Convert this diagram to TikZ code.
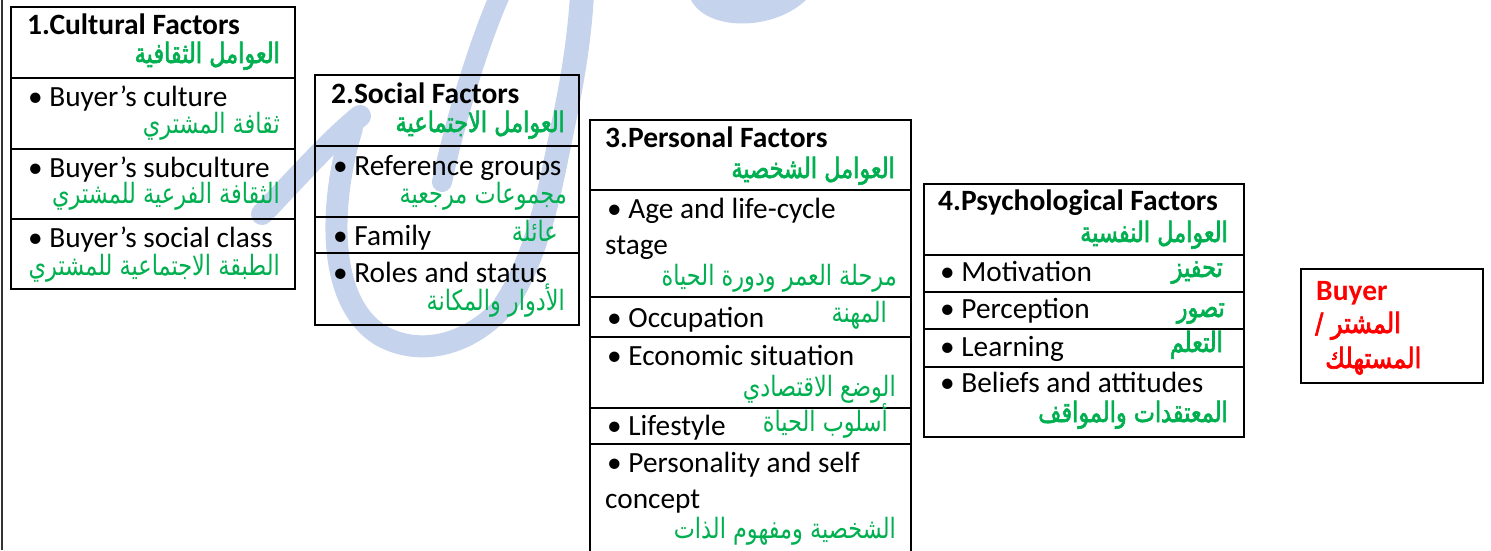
\documentclass[tikz,border=0pt]{standalone}
\usepackage{fontspec}
\setmainfont{Carlito}
\newfontfamily\arabicfont[Script=Arabic,FakeStretch=0.8]{DejaVu Sans}
\newfontfamily\arabicbf[Script=Arabic,FakeBold=2,FakeStretch=0.8]{DejaVu Sans}
\newfontfamily\arabicbfwide[Script=Arabic,FakeBold=2.5,FakeStretch=0.86]{DejaVu Sans}
\TeXXeTstate=1
\definecolor{wordgreen}{RGB}{0,176,80}
\definecolor{wmblue}{RGB}{197,211,236}
\newcommand{\artxt}[1]{{\arabicfont\beginR #1\endR}}
\newcommand{\artxtb}[1]{{\arabicbf\beginR #1\endR}}
\newcommand{\artxtw}[1]{{\arabicbfwide\beginR #1\endR}}
\tikzset{
  cell/.style={draw=black, line width=1.8pt},
  en/.style={anchor=base west, inner sep=0pt, font=\fontsize{29.3}{34}\selectfont},
  enb/.style={anchor=base west, inner sep=0pt, font=\fontsize{29.5}{34}\selectfont\bfseries},
  ar/.style={anchor=base east, inner sep=0pt, text=wordgreen, font=\fontsize{28}{32}\selectfont},
  buy/.style={anchor=base west, inner sep=0pt, text=red, font=\fontsize{28}{32}\selectfont},
  wm/.style={draw=wmblue, line cap=round, line join=round},
}
\begin{document}
\begin{tikzpicture}[x=1pt,y=-1pt]
\useasboundingbox (0,0) rectangle (1491,550);
\clip (0,0) rectangle (1491,550);
\fill[white] (0,0) rectangle (1491,550);
% watermark
\draw[wm, line width=22pt] (262,214) .. controls (295,180) and (330,140) .. (360,116);
\draw[wm, line width=22pt] (352,128) .. controls (330,200) and (325,300) .. (380,335)
   .. controls (420,358) and (470,345) .. (505,305);
\draw[wm, line width=24pt] (505,305) .. controls (535,260) and (548,200) .. (558,150)
   .. controls (566,110) and (578,60) .. (582,-5);
\draw[wm, line width=20pt] (500,-5) .. controls (480,40) and (455,120) .. (442,182);
\fill[wmblue] (690,-2) .. controls (705,32) and (775,32) .. (808,-2) -- cycle;
% left edge line
\draw[black!80, line width=2pt] (1.5,0) -- (1.5,550);
% box 1
\draw[cell] (11,7) rectangle (295,289);
\draw[cell] (11,78) -- (295,78);
\draw[cell] (11,149) -- (295,149);
\draw[cell] (11,219) -- (295,219);
\node[enb] (h1) at (27,34) {1.Cultural Factors};
\node[ar] (h1a) at (280,63) {\artxtb{العوامل الثقافية}};
\node[en] (c1) at (28,106) {•\ Buyer’s culture};
\node[ar] (c1a) at (280,133) {\artxt{ثقافة المشتري}};
\node[en] (c2) at (28,177) {•\ Buyer’s subculture};
\node[ar] (c2a) at (280,203) {\artxt{الثقافة الفرعية للمشتري}};
\node[en] (c3) at (28,247) {•\ Buyer’s social class};
\node[ar] (c3a) at (280,275) {\artxt{الطبقة الاجتماعية للمشتري}};
% box 2
\draw[cell] (315,75) rectangle (579,325);
\draw[cell] (315,146) -- (579,146);
\draw[cell] (315,217) -- (579,217);
\draw[cell] (315,253) -- (579,253);
\node[enb] (h2) at (331,103) {2.Social Factors};
\node[ar] (h2a) at (565,132) {\artxtb{العوامل الاجتماعية}};
\node[en] (s1) at (333,175) {•\ Reference groups};
\node[ar] (s1a) at (567,203) {\artxt{مجموعات مرجعية}};
\node[en] (s2) at (333,245) {•\ Family};
\node[ar] (s2a) at (558,241) {\artxt{عائلة}};
\node[en] (s3) at (333,282) {•\ Roles and status};
\node[ar] (s3a) at (565,310) {\artxt{الأدوار والمكانة}};
% box 3
\draw[cell] (590,120) rectangle (911,560);
\draw[cell] (590,190) -- (911,190);
\draw[cell] (590,297) -- (911,297);
\draw[cell] (590,337) -- (911,337);
\draw[cell] (590,408) -- (911,408);
\draw[cell] (590,444) -- (911,444);
\node[enb] (h3) at (605,147) {3.Personal Factors};
\node[ar] (h3a) at (895,178) {\artxtb{العوامل الشخصية}};
\node[en] (p1) at (607,218) {•\ Age and life-cycle};
\node[en] (p1b) at (605,254) {stage};
\node[ar] (p1a) at (897,285) {\artxt{مرحلة العمر ودورة الحياة}};
\node[en] (p2) at (607,327) {•\ Occupation};
\node[ar] (p2a) at (887,322) {\artxt{المهنة}};
\node[en] (p3) at (607,365) {•\ Economic situation};
\node[ar] (p3a) at (896,396) {\artxt{الوضع الاقتصادي}};
\node[en] (p4) at (607,435) {•\ Lifestyle};
\node[ar] (p4a) at (888,431) {\artxt{أسلوب الحياة}};
\node[en] (p5) at (607,472) {•\ Personality and self};
\node[en] (p5b) at (605,508) {concept};
\node[ar] (p5a) at (896,538) {\artxt{الشخصية ومفهوم الذات}};
% box 4
\draw[cell] (924,184) rectangle (1244,437);
\draw[cell] (924,255) -- (1244,255);
\draw[cell] (924,292) -- (1244,292);
\draw[cell] (924,329) -- (1244,329);
\draw[cell] (924,367) -- (1244,367);
\node[enb] (h4) at (938,210) {4.Psychological Factors};
\node[ar] (h4a) at (1228,242) {\artxtb{العوامل النفسية}};
\node[en] (q1) at (940,281) {•\ Motivation};
\node[ar] (q1a) at (1223,277) {\artxtb{تحفيز}};
\node[en] (q2) at (940,318) {•\ Perception};
\node[ar] (q2a) at (1225,317) {\artxtb{تصور}};
\node[en] (q3) at (940,356) {•\ Learning};
\node[ar] (q3a) at (1223,352) {\artxtb{التعلم}};
\node[en] (q4) at (940,392) {•\ Beliefs and attitudes};
\node[ar] (q4a) at (1228,422) {\artxtb{المعتقدات والمواقف}};
% buyer box
\draw[cell] (1301,269) rectangle (1483,383);
\node[enb, text=red] (b1) at (1316,300) {Buyer};
\node[buy] (b2) at (1315,333) {\artxtw{المشتر /}};
\node[buy] (b3) at (1325,368) {\artxtw{المستهلك}};
\end{tikzpicture}
\end{document}
